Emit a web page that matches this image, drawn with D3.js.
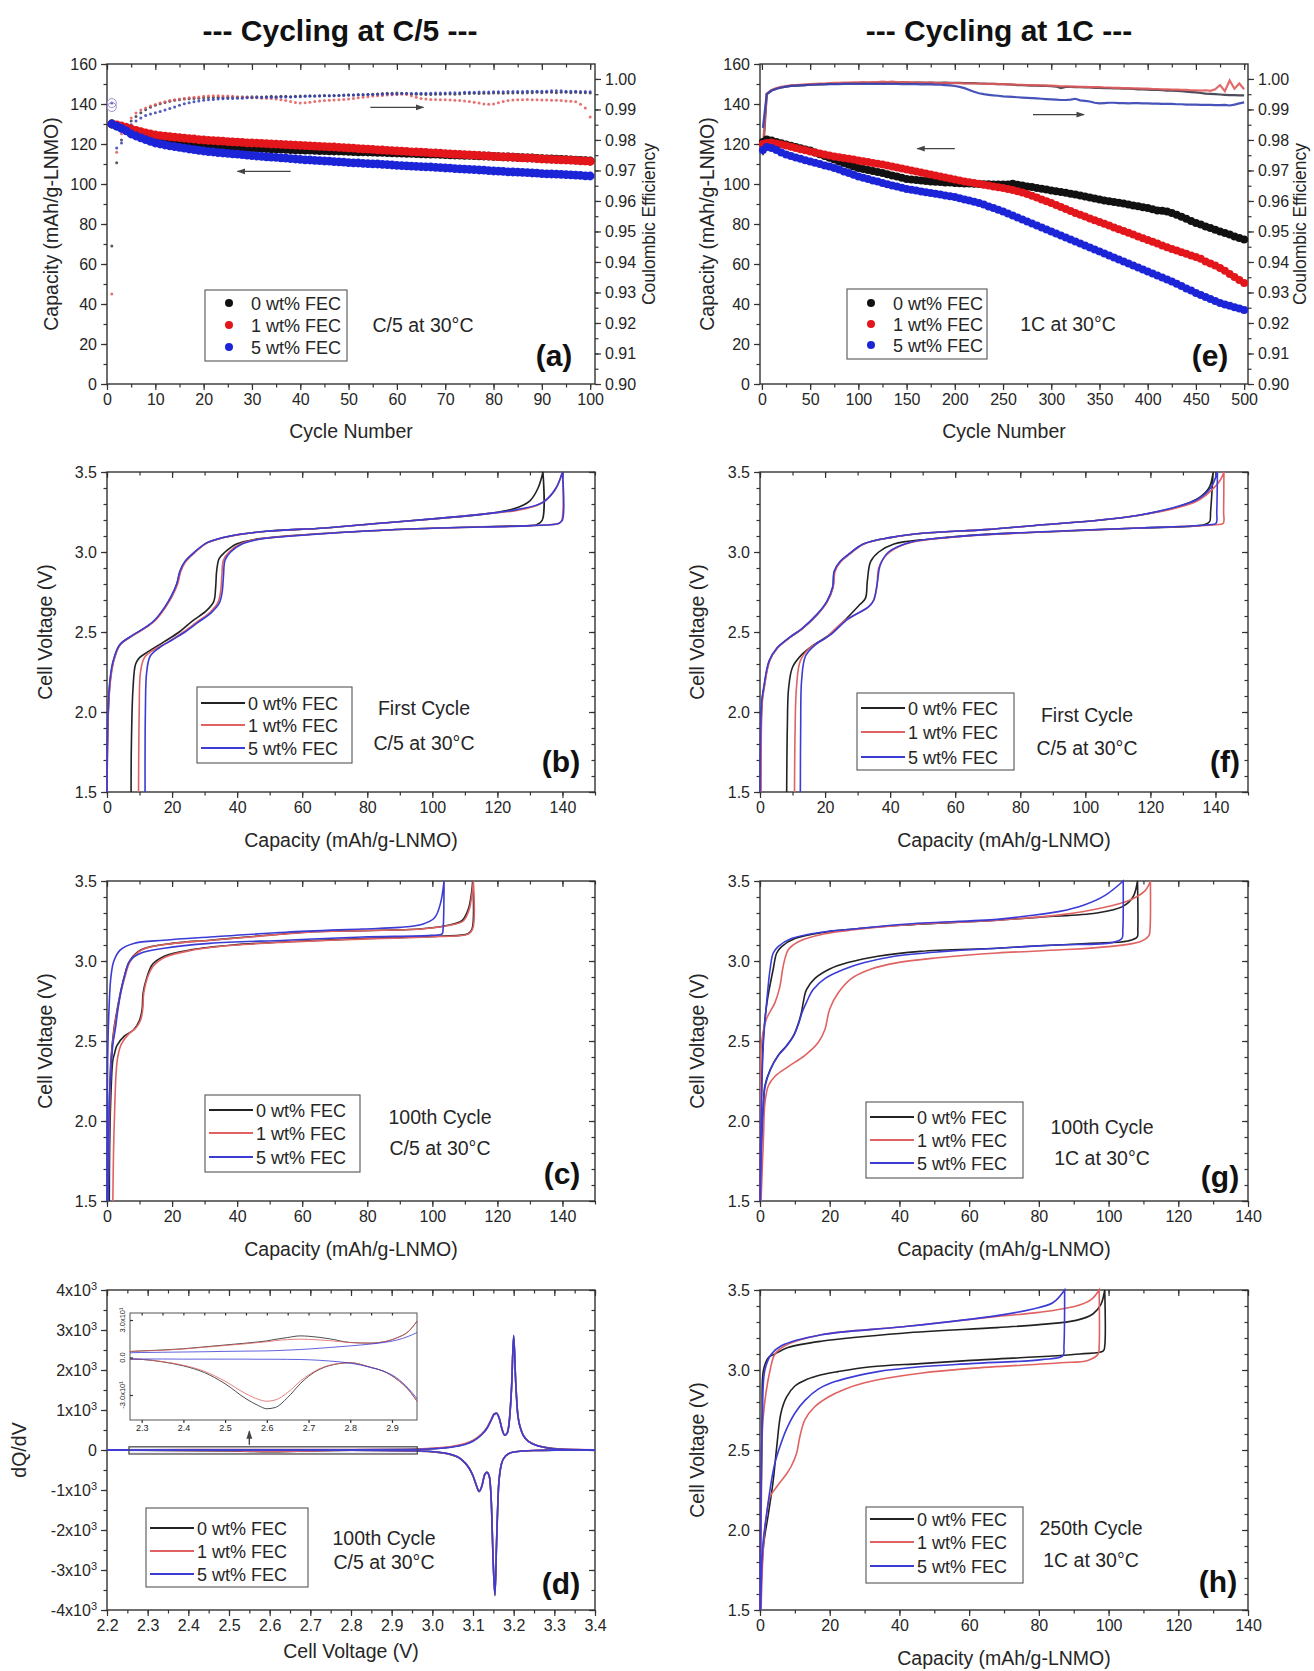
<!DOCTYPE html>
<html>
<head>
<meta charset="utf-8">
<script src="https://cdn.jsdelivr.net/npm/d3@7"></script>
<style>
  body { margin: 0; background: #fff; }
  svg { display: block; }
</style>
</head>
<body>
<svg id="fig" width="1314" height="1671" font-family="'Liberation Sans', Arial, sans-serif"></svg>
<script>
// ---------------- data ----------------
const seriesNames = ["0 wt% FEC", "1 wt% FEC", "5 wt% FEC"];
const dotColors = ["#111111", "#e3161b", "#1c24d8"];
const ceColors = ["#3a3a4a", "#e05a5a", "#3340b0"];
const lineColors = ["#222222", "#e06262", "#3b3bd6"];

// (a) cycling at C/5 : cycle numbers 1..100
const aCycle = d3.range(1, 101);
const aCap0 = [130,129,128,127,126,125.1,124.3,123.5,122.7,122.0,
  121.7,121.4,121.1,120.8,120.6,120.4,120.2,120.0,119.7,119.5,
  119.3,119.2,119.0,118.9,118.7,118.6,118.4,118.3,118.1,118.0,
  117.9,117.8,117.7,117.6,117.5,117.4,117.3,117.2,117.1,117.0,
  116.9,116.9,116.8,116.7,116.7,116.6,116.5,116.5,116.4,116.3,
  116.2,116.1,116.1,116.0,115.9,115.8,115.8,115.7,115.6,115.5,
  115.4,115.3,115.3,115.2,115.1,115.0,114.9,114.9,114.8,114.7,
  114.6,114.5,114.4,114.3,114.3,114.2,114.1,114.0,113.9,113.8,
  113.7,113.6,113.5,113.4,113.3,113.2,113.1,113.0,112.8,112.7,
  112.6,112.5,112.4,112.3,112.2,112.1,111.9,111.8,111.7,111.5];
const aCap1 = [130,129.6,129.0,128.3,127.5,126.8,126.2,125.6,125.0,124.5,
  124.2,123.9,123.7,123.4,123.2,122.9,122.7,122.5,122.2,122.0,
  121.8,121.7,121.5,121.4,121.2,121.1,120.9,120.8,120.6,120.5,
  120.4,120.3,120.2,120.0,119.9,119.8,119.7,119.6,119.4,119.3,
  119.2,119.1,118.9,118.8,118.7,118.6,118.5,118.3,118.2,118.0,
  117.9,117.7,117.6,117.4,117.3,117.1,117.0,116.8,116.7,116.5,
  116.4,116.3,116.1,116.0,115.9,115.8,115.6,115.5,115.4,115.2,
  115.1,114.9,114.8,114.7,114.5,114.4,114.3,114.1,114.0,113.8,
  113.7,113.6,113.5,113.4,113.2,113.1,113.0,112.9,112.7,112.5,
  112.4,112.3,112.2,112.1,112.0,111.9,111.8,111.6,111.5,111.3];
const aCap5 = [130,128.9,127.8,126.6,125.0,124.0,123.1,122.2,121.3,120.5,
  120.0,119.5,119.1,118.7,118.3,117.9,117.5,117.2,116.8,116.5,
  116.2,116.0,115.7,115.5,115.3,115.1,114.9,114.7,114.4,114.2,
  114.0,113.8,113.6,113.4,113.3,113.1,112.9,112.7,112.5,112.3,
  112.1,112.0,111.8,111.7,111.5,111.4,111.2,111.1,110.9,110.7,
  110.6,110.5,110.3,110.2,110.1,110.0,109.8,109.7,109.5,109.3,
  109.2,109.1,108.9,108.8,108.7,108.6,108.5,108.3,108.2,108.0,
  107.9,107.7,107.6,107.4,107.3,107.2,107.0,106.9,106.7,106.5,
  106.4,106.3,106.1,106.0,105.9,105.8,105.7,105.5,105.4,105.2,
  105.1,105.0,104.9,104.8,104.7,104.6,104.4,104.3,104.1,104.0];
const aCE0 = [.9452,.9725,.9800,.9840,.9862,.9877,.9889,.9899,.9907,.9914,
  .9919,.9923,.9927,.9930,.9932,.9934,.9935,.9936,.9937,.9938,
  .9939,.9939,.9940,.9939,.9940,.9941,.9940,.9941,.9941,.9942,
  .9942,.9941,.9942,.9943,.9942,.9943,.9943,.9942,.9943,.9944,
  .9944,.9945,.9944,.9945,.9946,.9945,.9946,.9946,.9947,.9947,
  .9947,.9948,.9948,.9949,.9950,.9951,.9952,.9953,.9953,.9954,
  .9953,.9952,.9951,.9950,.9950,.9949,.9949,.9950,.9950,.9951,
  .9951,.9950,.9951,.9952,.9952,.9953,.9952,.9953,.9953,.9954,
  .9954,.9953,.9954,.9954,.9955,.9954,.9955,.9955,.9956,.9955,
  .9956,.9956,.9955,.9956,.9956,.9955,.9956,.9955,.9955,.9954];
const aCE1 = [.9295,.9760,.9820,.9852,.9872,.9888,.9898,.9905,.9911,.9916,
  .9921,.9925,.9929,.9932,.9934,.9936,.9938,.9940,.9941,.9943,
  .9944,.9945,.9945,.9944,.9944,.9943,.9942,.9941,.9940,.9939,
  .9938,.9937,.9937,.9936,.9934,.9932,.9929,.9926,.9923,.9921,
  .9922,.9924,.9926,.9928,.9929,.9930,.9931,.9932,.9933,.9934,
  .9936,.9938,.9940,.9942,.9944,.9945,.9946,.9947,.9948,.9949,
  .9950,.9949,.9945,.9940,.9936,.9934,.9933,.9933,.9932,.9932,
  .9931,.9930,.9929,.9928,.9926,.9924,.9921,.9918,.9917,.9918,
  .9922,.9926,.9929,.9931,.9932,.9932,.9933,.9932,.9932,.9931,
  .9931,.9930,.9930,.9929,.9928,.9927,.9925,.9917,.9905,.9875];
const aCE5 = [.9921,.9774,.9790,.9830,.9850,.9862,.9872,.9880,.9885,.9889,
  .9893,.9898,.9903,.9908,.9914,.9919,.9922,.9925,.9928,.9930,
  .9932,.9933,.9934,.9935,.9936,.9936,.9937,.9937,.9938,.9938,
  .9939,.9939,.9940,.9940,.9940,.9941,.9941,.9941,.9942,.9942,
  .9943,.9943,.9944,.9944,.9945,.9945,.9945,.9946,.9946,.9947,
  .9947,.9948,.9948,.9949,.9949,.9950,.9950,.9951,.9951,.9951,
  .9952,.9952,.9952,.9953,.9953,.9953,.9953,.9954,.9954,.9954,
  .9955,.9955,.9955,.9956,.9956,.9956,.9957,.9957,.9957,.9958,
  .9958,.9958,.9959,.9959,.9959,.9959,.9960,.9960,.9960,.9960,
  .9960,.9961,.9961,.9961,.9960,.9960,.9960,.9959,.9959,.9958];
const aRingCE = [0.9908, 0.9921];   // first-cycle open circles
const aArrows = [[38, 106.3, 27, 106.3], [54.5, 138.3, 65.5, 138.3]];

// (e) cycling at 1C : cycle 1, then every 5th cycle to 500
const eCycle = [1].concat(d3.range(5, 501, 5));
const eCap0 = [121.0,122.2,121.7,121.0,120.4,119.7,119.1,118.5,117.9,117.3,
  116.7,115.8,114.9,114.0,113.1,112.2,111.3,110.5,109.6,108.8,
  108.0,107.5,107.0,106.5,106.0,105.5,104.9,104.3,103.7,103.1,
  102.5,102.2,102.0,101.8,101.5,101.3,101.1,101.0,100.8,100.7,
  100.5,100.4,100.3,100.2,100.1,100.0,99.9,99.9,99.8,99.8,
  99.7,99.8,100.1,99.6,99.2,98.8,98.5,98.0,97.6,97.2,
  96.8,96.4,96.0,95.6,95.1,94.7,94.2,93.7,93.2,92.7,
  92.2,91.8,91.4,91.0,90.6,90.2,89.8,89.3,88.9,88.4,
  88.0,87.4,86.8,86.6,86.2,85.5,84.6,83.6,82.6,81.5,
  80.5,79.7,78.8,78.0,77.1,76.3,75.5,74.7,73.8,73.0,72.2];
const eCap1 = [120.0,120.5,120.8,120.3,119.8,119.2,118.6,118.0,117.4,116.9,
  116.3,115.8,115.3,114.8,114.3,113.8,113.4,113.0,112.6,112.2,
  111.8,111.4,111.0,110.5,110.1,109.7,109.2,108.7,108.2,107.7,
  107.2,106.7,106.2,105.7,105.2,104.7,104.2,103.7,103.2,102.7,
  102.2,101.8,101.3,100.9,100.5,100.1,99.6,99.2,98.8,98.4,
  98.0,97.5,97.0,96.4,95.7,95.0,94.1,93.2,92.3,91.4,
  90.5,89.5,88.5,87.5,86.5,85.5,84.6,83.7,82.8,81.9,
  81.0,80.1,79.2,78.3,77.4,76.5,75.6,74.7,73.8,72.9,
  72.0,71.1,70.2,69.3,68.4,67.5,66.7,65.9,65.1,64.3,
  63.5,62.6,61.2,60.3,59.2,58.0,56.6,55.0,53.5,52.0,50.5];
const eCap5 = [117.0,118.5,118.0,117.0,115.8,114.7,114.0,113.3,112.6,111.9,
  111.3,110.6,110.0,109.3,108.7,108.0,107.2,106.3,105.5,104.6,
  103.8,103.1,102.5,101.8,101.2,100.5,99.9,99.3,98.7,98.1,
  97.5,97.1,96.7,96.3,95.9,95.5,95.1,94.7,94.3,93.9,
  93.5,92.9,92.3,91.7,91.1,90.5,89.7,88.8,88.0,87.1,
  86.3,85.3,84.3,83.3,82.3,81.3,80.3,79.3,78.3,77.3,
  76.3,75.3,74.3,73.3,72.3,71.3,70.3,69.3,68.3,67.3,
  66.3,65.3,64.3,63.3,62.3,61.3,60.3,59.3,58.3,57.3,
  56.3,55.3,54.3,53.3,52.3,51.3,50.1,49.0,47.8,46.7,
  45.5,44.5,43.5,42.5,41.5,40.5,39.8,39.1,38.4,37.7,37.0];
const eCE0 = [.9750,.9950,.9962,.9968,.9972,.9975,.9977,.9978,.9979,.9980,
  .9981,.9982,.9982,.9983,.9984,.9984,.9985,.9985,.9986,.9986,
  .9986,.9987,.9987,.9987,.9988,.9987,.9988,.9988,.9987,.9988,
  .9988,.9987,.9988,.9988,.9987,.9988,.9987,.9987,.9988,.9987,
  .9987,.9987,.9986,.9986,.9986,.9985,.9985,.9984,.9984,.9983,
  .9983,.9982,.9981,.9980,.9980,.9979,.9978,.9978,.9977,.9977,
  .9976,.9975,.9970,.9974,.9974,.9973,.9973,.9972,.9972,.9971,
  .9971,.9970,.9970,.9969,.9969,.9968,.9968,.9967,.9966,.9966,
  .9965,.9964,.9964,.9963,.9962,.9962,.9961,.9960,.9958,.9957,
  .9956,.9954,.9952,.9951,.9950,.9949,.9948,.9947,.9947,.9946,.9946];
const eCE1 = [.9780,.9952,.9964,.9970,.9974,.9977,.9979,.9980,.9981,.9982,
  .9983,.9984,.9985,.9985,.9986,.9987,.9987,.9988,.9988,.9989,
  .9989,.9990,.9989,.9990,.9990,.9991,.9990,.9991,.9990,.9990,
  .9990,.9989,.9989,.9988,.9988,.9988,.9987,.9987,.9987,.9986,
  .9986,.9986,.9985,.9985,.9985,.9985,.9984,.9984,.9984,.9983,
  .9983,.9982,.9982,.9981,.9981,.9980,.9980,.9979,.9979,.9978,
  .9978,.9977,.9976,.9976,.9975,.9975,.9974,.9974,.9973,.9973,
  .9973,.9972,.9972,.9971,.9971,.9970,.9970,.9969,.9969,.9968,
  .9968,.9967,.9967,.9966,.9966,.9965,.9965,.9964,.9964,.9963,
  .9963,.9962,.9963,.9961,.9966,.9980,.9960,.9995,.9968,.9985,.9966];
const eCE5 = [.9840,.9950,.9962,.9968,.9972,.9975,.9977,.9978,.9979,.9980,
  .9981,.9981,.9982,.9982,.9983,.9983,.9983,.9984,.9984,.9984,
  .9984,.9984,.9984,.9984,.9984,.9984,.9984,.9984,.9984,.9983,
  .9983,.9983,.9983,.9982,.9982,.9982,.9981,.9981,.9980,.9979,
  .9977,.9974,.9970,.9964,.9958,.9953,.9950,.9948,.9946,.9945,
  .9943,.9942,.9941,.9940,.9939,.9938,.9937,.9936,.9935,.9934,
  .9933,.9932,.9931,.9931,.9932,.9935,.9930,.9928,.9926,.9922,
  .9920,.9921,.9922,.9922,.9921,.9921,.9920,.9921,.9921,.9920,
  .9920,.9919,.9919,.9918,.9918,.9918,.9917,.9917,.9916,.9916,
  .9916,.9915,.9915,.9915,.9914,.9914,.9915,.9913,.9916,.9920,.9923];
const eArrows = [[200, 117.7, 161, 117.7], [281, 134.7, 334, 134.7]];

// voltage profiles: [capacity, voltage]; "Up" = charge branch, "Dn" = discharge branch
// (b) first cycle, C/5
const bUp0 = [[0,1.5],[0.4,2.0],[1,2.2],[2,2.32],[4,2.42],[8,2.48],[12,2.53],[15,2.58],[18,2.66],[20,2.73],[21.5,2.8],[22.5,2.88],[24,2.94],[27,3.0],[31,3.06],[38,3.1],[49,3.13],[67,3.15],[84,3.18],[102,3.21],[117,3.24],[125,3.27],[130,3.32],[132.5,3.4],[134,3.5]];
const bUp1 = [[0,1.5],[0.4,2.0],[1.1,2.2],[2.1,2.32],[4.1,2.42],[8.2,2.48],[12.2,2.53],[15.2,2.58],[18.2,2.66],[20.2,2.73],[21.7,2.8],[22.7,2.88],[24.2,2.94],[27.2,3.0],[31.2,3.06],[38.2,3.1],[49.2,3.13],[67.2,3.15],[84.2,3.18],[102.2,3.21],[117.2,3.24],[126,3.26],[133,3.3],[137.5,3.38],[140,3.5]];
const bUp5 = [[0,1.5],[0.3,2.0],[0.9,2.2],[1.9,2.32],[3.9,2.42],[7.9,2.48],[11.9,2.53],[14.9,2.58],[17.9,2.66],[19.9,2.73],[21.4,2.8],[22.4,2.88],[23.9,2.94],[26.9,3.0],[30.9,3.06],[37.9,3.1],[48.9,3.13],[66.9,3.15],[83.9,3.18],[101.9,3.21],[116.9,3.24],[126,3.265],[134,3.31],[138,3.4],[140,3.5]];
const bDn0 = [[134,3.5],[133.8,3.2],[132,3.17],[125,3.163],[102,3.15],[78.5,3.13],[55,3.1],[45.7,3.08],[39.8,3.05],[36.3,3.0],[34.5,2.96],[33.7,2.88],[33.4,2.78],[32.8,2.69],[30.4,2.63],[26.3,2.57],[22.2,2.5],[17.6,2.44],[12.9,2.38],[10,2.34],[8.8,2.3],[8,2.15],[7.5,1.8],[7.4,1.5]];
const bDn1 = [[140,3.5],[139.8,3.2],[139,3.18],[130,3.165],[102,3.15],[78.5,3.13],[56,3.1],[46.5,3.08],[41,3.05],[37.5,3.0],[35.8,2.95],[35.3,2.85],[34.9,2.75],[34,2.68],[31.5,2.62],[27.5,2.56],[23.5,2.5],[19,2.44],[14.5,2.39],[11.5,2.34],[10.3,2.25],[9.9,2.0],[9.7,1.5]];
const bDn5 = [[140,3.5],[140,3.2],[139,3.18],[130,3.165],[102,3.15],[78.5,3.13],[57,3.1],[47,3.08],[41.5,3.05],[38,3.0],[36.3,2.95],[35.8,2.85],[35.4,2.75],[34.5,2.68],[32,2.62],[28,2.56],[24,2.5],[20,2.45],[16,2.4],[13.3,2.35],[12.2,2.25],[11.8,2.0],[11.7,1.5]];

// (c) 100th cycle, C/5
const cUp0 = [[0.2,1.5],[0.6,1.96],[1.2,2.38],[2.1,2.57],[2.9,2.67],[4.1,2.8],[5.3,2.9],[7,3.0],[10.5,3.07],[20,3.11],[31.6,3.13],[43,3.15],[61,3.18],[78.5,3.19],[96,3.2],[104,3.22],[109,3.25],[111,3.32],[112,3.42],[112.4,3.5]];
const cUp1 = [[0.3,1.5],[0.7,1.96],[1.3,2.38],[2.2,2.57],[3,2.67],[4.2,2.8],[5.5,2.9],[7.2,3.0],[10.8,3.07],[20.5,3.11],[32,3.13],[44,3.15],[62,3.18],[79,3.19],[96.5,3.2],[104.5,3.22],[109.5,3.25],[111.3,3.32],[112.2,3.42],[112.6,3.5]];
const cUp5 = [[0,1.5],[0.2,2.38],[0.6,2.69],[1.2,2.9],[2.1,3.0],[4.1,3.07],[8.2,3.11],[17.6,3.13],[31.6,3.15],[55,3.18],[78.5,3.2],[90,3.21],[97,3.23],[100.7,3.27],[102.5,3.36],[103.6,3.5]];
const cDn0 = [[112.4,3.5],[112.2,3.2],[111,3.17],[102,3.155],[78.5,3.14],[55,3.12],[38.6,3.1],[25.8,3.07],[17.6,3.03],[14,2.98],[12.3,2.9],[11.1,2.8],[10.8,2.7],[10,2.63],[8.2,2.57],[5.3,2.53],[3,2.47],[2.3,2.42],[1.8,2.38],[1.1,2.1],[0.8,1.8],[0.7,1.5]];
const cDn1 = [[112.6,3.5],[112.4,3.2],[111,3.168],[102,3.153],[78.5,3.137],[55,3.118],[38.6,3.098],[26,3.067],[18,3.025],[14.3,2.97],[12.5,2.9],[11.3,2.8],[11,2.7],[10.3,2.63],[8.8,2.58],[6.5,2.54],[4.4,2.48],[3.3,2.4],[2.8,2.3],[2.4,2.1],[2,1.8],[1.8,1.5]];
const cDn5 = [[103.6,3.5],[103.3,3.2],[103,3.17],[99.5,3.16],[78.5,3.15],[55,3.13],[31.6,3.11],[17.6,3.08],[10.5,3.05],[7,3.0],[5.3,2.9],[4.2,2.8],[3.3,2.69],[2.6,2.58],[1.8,2.48],[1.2,2.3],[0.8,2.17],[0.5,1.8],[0.35,1.5]];

// (f) first cycle, 1C panel
const fUp0 = [[0.2,1.5],[0.6,2.06],[1.2,2.15],[2.9,2.32],[5.3,2.4],[9.4,2.47],[12.9,2.52],[17.6,2.61],[20.6,2.69],[22.4,2.78],[22.9,2.88],[24.7,2.94],[27,2.98],[31.8,3.05],[40,3.09],[51.8,3.12],[69.4,3.14],[87,3.17],[104.7,3.2],[116.5,3.23],[128,3.28],[135,3.34],[138,3.4],[139.3,3.5]];
const fUp1 = [[0.3,1.5],[0.7,2.06],[1.3,2.15],[3,2.32],[5.4,2.4],[9.5,2.47],[13,2.52],[17.7,2.61],[20.7,2.69],[22.5,2.78],[23.1,2.88],[24.9,2.94],[27.2,2.98],[32,3.05],[40.2,3.09],[52,3.12],[69.6,3.14],[87.2,3.17],[104.9,3.2],[116.7,3.23],[128,3.275],[134.5,3.32],[138.5,3.38],[141.5,3.45],[142.6,3.5]];
const fUp5 = [[0,1.5],[0.5,2.06],[1.1,2.15],[2.8,2.32],[5.2,2.4],[9.3,2.47],[12.8,2.52],[17.5,2.61],[20.5,2.69],[22.3,2.78],[22.8,2.88],[24.6,2.94],[26.9,2.98],[31.7,3.05],[39.9,3.09],[51.7,3.12],[69.3,3.14],[86.9,3.17],[104.6,3.2],[116.4,3.23],[127.5,3.28],[134.5,3.33],[138.5,3.4],[140.6,3.5]];
const fDn0 = [[139.3,3.5],[138.5,3.25],[138.2,3.19],[136.5,3.17],[116.5,3.15],[93,3.13],[69.4,3.11],[51.8,3.08],[41.2,3.05],[36.5,3.0],[34,2.94],[33,2.82],[32.4,2.71],[30.6,2.67],[25.9,2.57],[21.2,2.48],[16.5,2.42],[12.9,2.36],[10,2.28],[8.8,2.15],[8.4,1.9],[8.2,1.5]];
const fDn1 = [[142.6,3.5],[142.5,3.25],[142.4,3.18],[140,3.17],[116.5,3.15],[81.2,3.12],[57.6,3.09],[44.7,3.05],[38.8,2.98],[36.5,2.9],[35.9,2.78],[34.7,2.69],[33,2.65],[25.9,2.57],[20,2.46],[15.3,2.4],[12.4,2.32],[11.2,2.15],[10.8,1.9],[10.6,1.5]];
const fDn5 = [[140.6,3.5],[140.4,3.25],[140.2,3.18],[138,3.17],[116.5,3.15],[85,3.125],[60,3.095],[46,3.06],[39.5,3.0],[37,2.92],[36,2.8],[35,2.7],[33.5,2.66],[27,2.58],[21.5,2.48],[17,2.42],[14,2.35],[12.8,2.2],[12.5,1.9],[12.4,1.5]];

// (g) 100th cycle, 1C
const gUp0 = [[0,1.5],[0.3,2.0],[0.9,2.5],[2,2.74],[3.8,2.95],[4.8,3.05],[6.2,3.09],[10,3.14],[18.6,3.18],[27,3.2],[41.4,3.225],[68,3.255],[81,3.275],[96.5,3.3],[104,3.34],[107,3.4],[108.3,3.5]];
const gUp1 = [[0,1.5],[0.2,2.0],[0.5,2.5],[1.9,2.64],[4.3,2.74],[5.7,2.84],[6.5,2.95],[7.1,3.01],[8.1,3.07],[11,3.12],[18.6,3.17],[27,3.195],[41.4,3.225],[68,3.255],[86.6,3.29],[97.6,3.33],[106,3.38],[110.5,3.44],[112,3.5]];
const gUp5 = [[0,1.5],[0.3,2.0],[1,2.5],[1.9,2.74],[2.9,2.95],[3.8,3.05],[5.2,3.09],[9,3.14],[17.6,3.18],[27,3.2],[41.4,3.23],[68,3.26],[76,3.28],[86,3.31],[93,3.35],[99,3.41],[104.2,3.5]];
const gDn0 = [[108.3,3.5],[108.4,3.2],[108.2,3.15],[105.5,3.125],[95,3.11],[80,3.095],[68,3.08],[46,3.06],[33.8,3.03],[25.2,2.99],[20,2.95],[15.7,2.89],[13.3,2.82],[12.4,2.74],[11.9,2.68],[11,2.61],[9.5,2.53],[7.6,2.47],[5.2,2.41],[2.9,2.32],[1.4,2.22],[1,2.11],[0.5,1.9],[0,1.5]];
const gDn1 = [[112,3.5],[111.9,3.2],[111.6,3.16],[109,3.12],[100,3.09],[86.6,3.07],[68,3.05],[51,3.02],[39.5,2.99],[31.9,2.95],[26.2,2.89],[22.4,2.8],[20,2.7],[18.6,2.57],[16.7,2.49],[12.9,2.41],[8.1,2.34],[4.3,2.28],[2.4,2.22],[1.4,2.11],[1,1.9],[0.3,1.5]];
const gDn5 = [[104.2,3.5],[104.1,3.2],[103.8,3.14],[101,3.115],[85,3.1],[68,3.08],[52.9,3.06],[38.6,3.03],[30,2.99],[24.3,2.95],[18.6,2.89],[15.2,2.82],[13.3,2.74],[12.1,2.68],[11.1,2.61],[9.6,2.53],[7.7,2.47],[5.3,2.41],[3,2.32],[1.5,2.22],[1,2.11],[0.5,1.9],[0.1,1.5]];

// (h) 250th cycle, 1C
const hUp0 = [[0,1.5],[0.3,2.2],[0.6,2.7],[1,3.0],[2.5,3.08],[4.3,3.1],[8,3.14],[17.6,3.18],[41,3.23],[68,3.265],[80.8,3.285],[90.7,3.31],[95.5,3.35],[97.8,3.41],[98.9,3.5]];
const hUp1 = [[0,1.5],[0.4,2.2],[0.9,2.7],[2.9,3.0],[4.3,3.1],[7,3.15],[17.6,3.22],[41,3.27],[68,3.335],[80,3.36],[90.7,3.4],[95,3.44],[97.3,3.5]];
const hUp5 = [[0,1.5],[0.3,2.2],[0.7,2.7],[1.4,3.0],[3.3,3.1],[6,3.15],[17.6,3.22],[41,3.27],[68,3.34],[78,3.38],[84,3.42],[87.4,3.5]];
const hDn0 = [[98.9,3.5],[98.9,3.15],[98.5,3.12],[91.8,3.1],[60.5,3.06],[46,3.04],[31.9,3.02],[22.4,2.99],[17.6,2.97],[13.3,2.94],[10,2.9],[7.6,2.83],[6,2.73],[4.8,2.52],[3.8,2.31],[2.4,2.1],[1,1.9],[0,1.5]];
const hDn1 = [[97.3,3.5],[97.3,3.15],[97,3.1],[94,3.06],[86.3,3.045],[60.5,3.01],[46,2.98],[36.7,2.95],[30,2.92],[24.3,2.88],[19.5,2.83],[15.7,2.77],[12.9,2.69],[11.4,2.58],[10.5,2.48],[9,2.4],[7.6,2.35],[4.8,2.27],[2.9,2.21],[1.9,2.1],[1,1.9],[0.3,1.5]];
const hDn5 = [[87.4,3.5],[87.2,3.15],[86.9,3.09],[80.8,3.065],[60.5,3.04],[46,3.02],[33.8,2.99],[27.1,2.96],[20.5,2.92],[16.7,2.88],[12.9,2.81],[10,2.73],[7.6,2.63],[5.7,2.52],[4.3,2.42],[3.3,2.31],[1.9,2.1],[0.8,1.9],[0.2,1.5]];

// (d) dQ/dV, 100th cycle at C/5
const dqChV = [2.2,2.5,2.8,2.95,3.0,3.05,3.08,3.1,3.12,3.135,3.145,3.152,3.158,3.165,3.172,3.178,3.184,3.19,3.195,3.2,3.205,3.21,3.22,3.23,3.25,3.28,3.32,3.4];
const dqCh0 = [0,8,8,15,35,80,150,230,380,560,760,900,920,780,500,370,420,800,1600,2850,1700,900,450,280,140,60,20,4];
const dqCh1 = [0,10,9,18,40,90,160,240,390,570,770,910,925,790,510,375,430,820,1620,2830,1720,910,460,285,145,62,22,4];
const dqCh5 = [0,3,5,12,30,75,140,220,370,550,750,890,915,770,490,365,415,790,1590,2870,1690,890,445,275,138,58,20,4];
const dqDsV = [2.2,2.5,2.6,2.8,2.95,3.0,3.04,3.07,3.09,3.1,3.108,3.115,3.122,3.128,3.134,3.14,3.145,3.15,3.154,3.158,3.163,3.17,3.18,3.2,3.25,3.3,3.4];
const dqDs0 = [-2,-25,-42,-6,-25,-45,-100,-230,-450,-650,-880,-1040,-900,-640,-560,-660,-1300,-2900,-3640,-2300,-900,-350,-150,-50,-12,-4,0];
const dqDs1 = [-2,-20,-36,-6,-24,-44,-98,-225,-440,-640,-870,-1030,-890,-630,-555,-650,-1280,-2880,-3600,-2280,-890,-345,-148,-50,-12,-4,0];
const dqDs5 = [-3,-3,-3,-5,-20,-40,-95,-220,-440,-645,-875,-1035,-895,-635,-558,-655,-1290,-2890,-3620,-2290,-895,-348,-149,-50,-12,-4,0];
// inset (zoom of 2.27 - 2.96 V)
const insV = [2.272,2.3,2.35,2.4,2.45,2.5,2.55,2.58,2.6,2.62,2.65,2.68,2.7,2.75,2.8,2.85,2.88,2.91,2.94,2.96];
const insCh0 = [4.8,5.3,6,7,8.5,10,11.5,12.5,13.3,14.5,16,17.3,17,15,12,11.5,12.5,15.5,21,29];
const insCh1 = [4.8,5.2,5.8,6.8,8.2,9.6,11,12,12.6,13.5,14.3,14.7,14.5,13.5,12,11.5,12.5,15.5,21,29];
const insCh5 = [3.8,4,4.2,4.4,4.6,4.9,5.1,5.2,5.3,5.5,5.9,6.4,6.8,8,9.3,10.8,12,13.8,17,20];
const insDs0 = [-1.2,-1.5,-3.5,-6.7,-12,-21,-33,-38.5,-41,-40,-32,-21,-15,-6.5,-4.2,-8,-11,-17,-26,-35];
const insDs1 = [-1.2,-1.5,-3.3,-6.2,-11,-19,-29,-33.5,-35,-34,-28,-19,-14,-6.2,-4.2,-8,-11,-17,-26,-35];
const insDs5 = [-1.2,-1.2,-1.2,-1.3,-1.3,-1.3,-1.3,-1.4,-1.4,-1.4,-1.5,-1.6,-1.8,-2.8,-4.5,-8,-11,-16,-25,-33];
const insBox = [2.254, 2.963, -100, 80];   // region marked in the main plot
const dArrow = [2.55, 130, 2.55, 470];

// ---------------- drawing ----------------
const svg = d3.select("#fig");
const TXT = "#262626", AX = "#333";
const COLX = [107, 760], ROWY = [64, 472, 881, 1290], PW = 488, PH = 320;
const LEG_FS = 18;

svg.append("defs").append("marker").attr("id", "ah")
  .attr("viewBox", "0 0 10 10").attr("refX", 9).attr("refY", 5)
  .attr("markerWidth", 6).attr("markerHeight", 6).attr("orient", "auto")
  .append("path").attr("d", "M0,1.5L10,5L0,8.5Z").attr("fill", "#444");

function steps(a, b, s) {
  const out = [];
  for (let i = 0; a + i * s <= b + s * 1e-6; i++) out.push(+(a + i * s).toFixed(6));
  return out;
}

function panel(col, row, xDom, yDom) {
  const g = svg.append("g").attr("transform", `translate(${COLX[col]},${ROWY[row]})`);
  const x = d3.scaleLinear().domain(xDom).range([0, PW]);
  const y = d3.scaleLinear().domain(yDom).range([PH, 0]);
  return { g, x, y, w: PW, h: PH };
}

function styleAx(sel) {
  sel.select(".domain").remove();
  sel.selectAll("line").attr("stroke", AX).attr("stroke-width", 1.2);
  sel.selectAll("text").attr("font-size", 16).attr("fill", TXT)
    .attr("font-family", "'Liberation Sans', Arial, sans-serif");
}

function axes(p, o) {
  const { g, x, y, w, h } = p;
  const put = (ax, tx, ty) => g.append("g").attr("transform", `translate(${tx},${ty})`).call(ax).call(styleAx);
  const xMaj = steps(...o.xMaj), xMin = steps(...o.xMin);
  const yMaj = steps(...o.yMaj), yMin = steps(...o.yMin);
  put(d3.axisBottom(x).tickValues(xMin).tickSize(3.5).tickFormat(""), 0, h);
  const xb = put(d3.axisBottom(x).tickValues(xMaj).tickSize(6).tickPadding(4).tickFormat(o.xFmt), 0, h);
  put(d3.axisLeft(y).tickValues(yMin).tickSize(3.5).tickFormat(""), 0, 0);
  const yl = put(d3.axisLeft(y).tickValues(yMaj).tickSize(6).tickPadding(4).tickFormat(o.yFmt), 0, 0);
  put(d3.axisBottom(x).tickValues(xMin).tickSize(3.5).tickFormat(""), 0, 0);
  put(d3.axisBottom(x).tickValues(xMaj).tickSize(6).tickFormat(""), 0, 0);
  if (!o.dual) {
    put(d3.axisLeft(y).tickValues(yMin).tickSize(3.5).tickFormat(""), w, 0);
    put(d3.axisLeft(y).tickValues(yMaj).tickSize(6).tickFormat(""), w, 0);
  }
  g.append("rect").attr("width", w).attr("height", h).attr("fill", "none")
    .attr("stroke", AX).attr("stroke-width", 1.4);
  return { xb, yl };
}

function xTitle(p, txt, dy) {
  p.g.append("text").attr("x", p.w / 2).attr("y", p.h + dy).attr("text-anchor", "middle")
    .attr("font-size", 19.5).attr("fill", TXT).text(txt);
}
function yTitle(p, txt, dx) {
  p.g.append("text").attr("transform", `translate(${dx},${p.h / 2}) rotate(-90)`)
    .attr("text-anchor", "middle").attr("dy", "0.35em")
    .attr("font-size", 19.5).attr("fill", TXT).text(txt);
}
function note(p, txt, x, y) {
  p.g.append("text").attr("x", x).attr("y", y).attr("text-anchor", "middle")
    .attr("font-size", 19.5).attr("fill", TXT).text(txt);
}
function tag(p, txt, x, y) {
  p.g.append("text").attr("x", x).attr("y", y).attr("text-anchor", "middle")
    .attr("font-size", 30).attr("font-weight", "bold").attr("fill", "#111").text(txt);
}
function legend(p, box, rows, kind, colors) {
  const [bx, by, bw, bh] = box;
  const lg = p.g.append("g").attr("transform", `translate(${bx},${by})`);
  lg.append("rect").attr("width", bw).attr("height", bh).attr("fill", "#fff")
    .attr("stroke", "#555").attr("stroke-width", 1.1);
  seriesNames.forEach((s, i) => {
    const ry = rows[i] - by;
    if (kind === "dot") {
      lg.append("circle").attr("cx", 24).attr("cy", ry).attr("r", 4).attr("fill", colors[i]);
      lg.append("text").attr("x", 46).attr("y", ry + 6.5).attr("font-size", LEG_FS).attr("fill", TXT).text(s);
    } else {
      lg.append("line").attr("x1", 4).attr("x2", 48).attr("y1", ry).attr("y2", ry)
        .attr("stroke", colors[i]).attr("stroke-width", 1.8);
      lg.append("text").attr("x", 51).attr("y", ry + 6.5).attr("font-size", LEG_FS).attr("fill", TXT).text(s);
    }
  });
}
function arrows(p, list) {
  list.forEach(a => {
    p.g.append("line").attr("x1", p.x(a[0])).attr("y1", p.y(a[1]))
      .attr("x2", p.x(a[2])).attr("y2", p.y(a[3]))
      .attr("stroke", "#444").attr("stroke-width", 1.4).attr("marker-end", "url(#ah)");
  });
}

// titles
svg.append("text").attr("x", 340).attr("y", 41).attr("text-anchor", "middle")
  .attr("font-size", 30).attr("font-weight", "bold").attr("fill", "#111").text("--- Cycling at C/5 ---");
svg.append("text").attr("x", 999).attr("y", 41).attr("text-anchor", "middle")
  .attr("font-size", 30).attr("font-weight", "bold").attr("fill", "#111").text("--- Cycling at 1C ---");

// ---------- cycling panels (a) and (e) ----------
function cyclingPanel(col, xDom, xMaj, xMin, cycles, caps, ces, dotR, ceMode) {
  const p = panel(col, 0, xDom, [0, 160]);
  const yr = d3.scaleLinear().domain([0.9, 1.0049]).range([PH, 0]);
  axes(p, { xMaj, xMin, yMaj: [0, 160, 20], yMin: [0, 160, 10], xFmt: d3.format("d"), yFmt: d3.format("d"), dual: true });
  p.g.append("g").attr("transform", `translate(${PW},0)`)
    .call(d3.axisRight(yr).tickValues(steps(0.9, 1.0, 0.005)).tickSize(3.5).tickFormat("")).call(styleAx);
  p.g.append("g").attr("transform", `translate(${PW},0)`)
    .call(d3.axisRight(yr).tickValues(steps(0.9, 1.0, 0.01)).tickSize(6).tickPadding(4).tickFormat(d3.format(".2f"))).call(styleAx);
  // coulombic efficiency
  ces.forEach((ce, i) => {
    if (ceMode === "dots") {
      p.g.append("g").selectAll("circle").data(ce).join("circle")
        .attr("cx", (d, j) => p.x(cycles[j])).attr("cy", d => yr(d)).attr("r", 1.5)
        .attr("fill", ceColors[i]).attr("opacity", 0.85);
    } else {
      p.g.append("path").datum(ce)
        .attr("d", d3.line().x((d, j) => p.x(cycles[j])).y(d => yr(d)))
        .attr("fill", "none").attr("stroke", ceColors[i]).attr("stroke-width", 2.2).attr("opacity", 0.9);
    }
  });
  // capacity
  caps.forEach((cap, i) => {
    p.g.append("g").selectAll("circle").data(cap).join("circle")
      .attr("cx", (d, j) => p.x(cycles[j])).attr("cy", d => p.y(d)).attr("r", dotR)
      .attr("fill", dotColors[i]);
  });
  return { p, yr };
}

// (a)
const A = cyclingPanel(0, [0, 101], [0, 100, 10], [0, 100, 5], aCycle,
  [aCap0, aCap1, aCap5], [aCE0, aCE1, aCE5], 4.4, "dots");
A.p.g.append("g").selectAll("circle").data(aRingCE).join("circle")
  .attr("cx", A.p.x(1)).attr("cy", d => A.yr(d)).attr("r", 4.5)
  .attr("fill", "none").attr("stroke", "#a090d0").attr("stroke-width", 1);
arrows(A.p, aArrows);
xTitle(A.p, "Cycle Number", 54);
yTitle(A.p, "Capacity (mAh/g-LNMO)", -56);
A.p.g.append("text").attr("transform", `translate(542,${PH / 2}) rotate(-90)`)
  .attr("text-anchor", "middle").attr("dy", "0.35em").attr("font-size", 17.5).attr("fill", TXT)
  .text("Coulombic Efficiency");
legend(A.p, [98, 226, 142, 71], [239, 261, 283], "dot", dotColors);
note(A.p, "C/5 at 30°C", 316, 268);
tag(A.p, "(a)", 447, 302);

// (e)
const E = cyclingPanel(1, [-2, 504], [0, 500, 50], [0, 500, 25], eCycle,
  [eCap0, eCap1, eCap5], [eCE0, eCE1, eCE5], 4.0, "line");
arrows(E.p, eArrows);
xTitle(E.p, "Cycle Number", 54);
yTitle(E.p, "Capacity (mAh/g-LNMO)", -53);
E.p.g.append("text").attr("transform", `translate(540,${PH / 2}) rotate(-90)`)
  .attr("text-anchor", "middle").attr("dy", "0.35em").attr("font-size", 17.5).attr("fill", TXT)
  .text("Coulombic Efficiency");
legend(E.p, [87, 225, 140, 70], [239, 260, 281], "dot", dotColors);
note(E.p, "1C at 30°C", 308, 267);
tag(E.p, "(e)", 450, 302);

// ---------- voltage profile panels ----------
function voltPanel(col, row, xMax, loops, o) {
  const p = panel(col, row, [0, xMax], [1.5, 3.5]);
  axes(p, { xMaj: [0, 140, 20], xMin: [0, xMax, 10], yMaj: [1.5, 3.5, 0.5], yMin: [1.5, 3.5, 0.1],
    xFmt: d3.format("d"), yFmt: d3.format(".1f") });
  const line = d3.line().x(d => p.x(d[0])).y(d => p.y(d[1])).curve(d3.curveCatmullRom.alpha(0.5));
  loops.forEach((lp, i) => {
    p.g.append("path").attr("d", line(lp[0].concat(lp[1])))
      .attr("fill", "none").attr("stroke", lineColors[i]).attr("stroke-width", 1.6);
  });
  xTitle(p, "Capacity (mAh/g-LNMO)", 55);
  yTitle(p, "Cell Voltage (V)", o.yt);
  legend(p, o.box, o.rows, "line", lineColors);
  note(p, o.n1, o.nx, o.ny[0]);
  note(p, o.n2, o.nx, o.ny[1]);
  tag(p, o.tag, o.tx, o.ty);
  return p;
}

voltPanel(0, 1, 150, [[bUp0, bDn0], [bUp1, bDn1], [bUp5, bDn5]],
  { yt: -62, box: [90, 215, 155, 76], rows: [231, 253, 276], n1: "First Cycle", n2: "C/5 at 30°C",
    nx: 317, ny: [243, 278], tag: "(b)", tx: 454, ty: 300 });
voltPanel(1, 1, 150, [[fUp0, fDn0], [fUp1, fDn1], [fUp5, fDn5]],
  { yt: -63, box: [97, 221, 157, 77], rows: [236, 260, 285], n1: "First Cycle", n2: "C/5 at 30°C",
    nx: 327, ny: [250, 283], tag: "(f)", tx: 465, ty: 300 });
voltPanel(0, 2, 150, [[cUp0, cDn0], [cUp1, cDn1], [cUp5, cDn5]],
  { yt: -62, box: [98, 214, 155, 77], rows: [229, 252, 276], n1: "100th Cycle", n2: "C/5 at 30°C",
    nx: 333, ny: [243, 274], tag: "(c)", tx: 455, ty: 303 });
voltPanel(1, 2, 140, [[gUp0, gDn0], [gUp1, gDn1], [gUp5, gDn5]],
  { yt: -63, box: [106, 221, 157, 76], rows: [236, 259, 282], n1: "100th Cycle", n2: "1C at 30°C",
    nx: 342, ny: [253, 284], tag: "(g)", tx: 460, ty: 306 });
voltPanel(1, 3, 140, [[hUp0, hDn0], [hUp1, hDn1], [hUp5, hDn5]],
  { yt: -63, box: [106, 217, 157, 76], rows: [229, 252, 276], n1: "250th Cycle", n2: "1C at 30°C",
    nx: 331, ny: [245, 277], tag: "(h)", tx: 458, ty: 302 });

// ---------- (d) dQ/dV ----------
const D = panel(0, 3, [2.2, 3.4], [-4000, 4000]);
const dAx = axes(D, { xMaj: [2.2, 3.4, 0.1], xMin: [2.2, 3.4, 0.05], yMaj: [-4000, 4000, 1000], yMin: [-4000, 4000, 500],
  xFmt: d3.format(".1f"), yFmt: d3.format("d") });
dAx.yl.selectAll(".tick text").each(function (v) {
  const t = d3.select(this).text(null);
  if (v === 0) { t.text("0"); return; }
  t.append("tspan").text(`${v / 1000}x10`);
  t.append("tspan").attr("dy", "-0.55em").attr("font-size", 11).text("3");
});
const dqLine = (xs) => d3.line().x((d, j) => D.x(xs[j])).y(d => D.y(d)).curve(d3.curveMonotoneX);
[[dqCh0, dqDs0], [dqCh1, dqDs1], [dqCh5, dqDs5]].forEach((s, i) => {
  D.g.append("path").attr("d", dqLine(dqChV)(s[0])).attr("fill", "none").attr("stroke", lineColors[i]).attr("stroke-width", 1.6);
  D.g.append("path").attr("d", dqLine(dqDsV)(s[1])).attr("fill", "none").attr("stroke", lineColors[i]).attr("stroke-width", 1.6);
});
D.g.append("rect").attr("x", D.x(insBox[0])).attr("y", D.y(insBox[3]))
  .attr("width", D.x(insBox[1]) - D.x(insBox[0])).attr("height", D.y(insBox[2]) - D.y(insBox[3]))
  .attr("fill", "rgba(120,120,170,0.12)").attr("stroke", "#444").attr("stroke-width", 1.2);
arrows(D, [dArrow]);

// inset
const ix = d3.scaleLinear().domain([2.272, 2.96]).range([23, 310]);
const iy = d3.scaleLinear().domain([-50, 35.6]).range([130, 23]);
const ins = D.g.append("g");
ins.append("rect").attr("x", 23).attr("y", 23).attr("width", 287).attr("height", 107)
  .attr("fill", "#fff").attr("stroke", "#555").attr("stroke-width", 1);
const insLine = d3.line().x((d, j) => ix(insV[j])).y(d => iy(d)).curve(d3.curveMonotoneX);
[[insCh0, insDs0], [insCh1, insDs1], [insCh5, insDs5]].forEach((s, i) => {
  ins.append("path").attr("d", insLine(s[0])).attr("fill", "none").attr("stroke", lineColors[i]).attr("stroke-width", 1).attr("opacity", 0.8);
  ins.append("path").attr("d", insLine(s[1])).attr("fill", "none").attr("stroke", lineColors[i]).attr("stroke-width", 1).attr("opacity", 0.8);
});
ins.append("g").attr("transform", "translate(0,130)")
  .call(d3.axisBottom(ix).tickValues(steps(2.3, 2.9, 0.1)).tickSize(3).tickPadding(2).tickFormat(d3.format(".1f")))
  .call(styleAx).call(s => s.selectAll("text").attr("font-size", 9));
ins.append("g").attr("transform", "translate(0,23)")
  .call(d3.axisBottom(ix).tickValues(steps(2.3, 2.9, 0.05)).tickSize(2.5).tickFormat(""))
  .call(styleAx);
ins.append("g").attr("transform", "translate(23,0)")
  .call(d3.axisRight(iy).tickValues([-30, 0, 30]).tickSize(3).tickFormat(""))
  .call(styleAx);
[[30, "3.0x10\u00b9"], [0, "0.0"], [-30, "-3.0x10\u00b9"]].forEach(t => {
  ins.append("text").attr("transform", `translate(18,${iy(t[0])}) rotate(-90)`)
    .attr("text-anchor", "middle").attr("font-size", 7.5).attr("fill", TXT).text(t[1]);
});

xTitle(D, "Cell Voltage (V)", 48);
yTitle(D, "dQ/dV", -88);
legend(D, [39, 218, 162, 79], [238, 261, 284], "line", lineColors);
note(D, "100th Cycle", 277, 255);
note(D, "C/5 at 30°C", 277, 279);
tag(D, "(d)", 454, 304);
</script>
</body>
</html>
